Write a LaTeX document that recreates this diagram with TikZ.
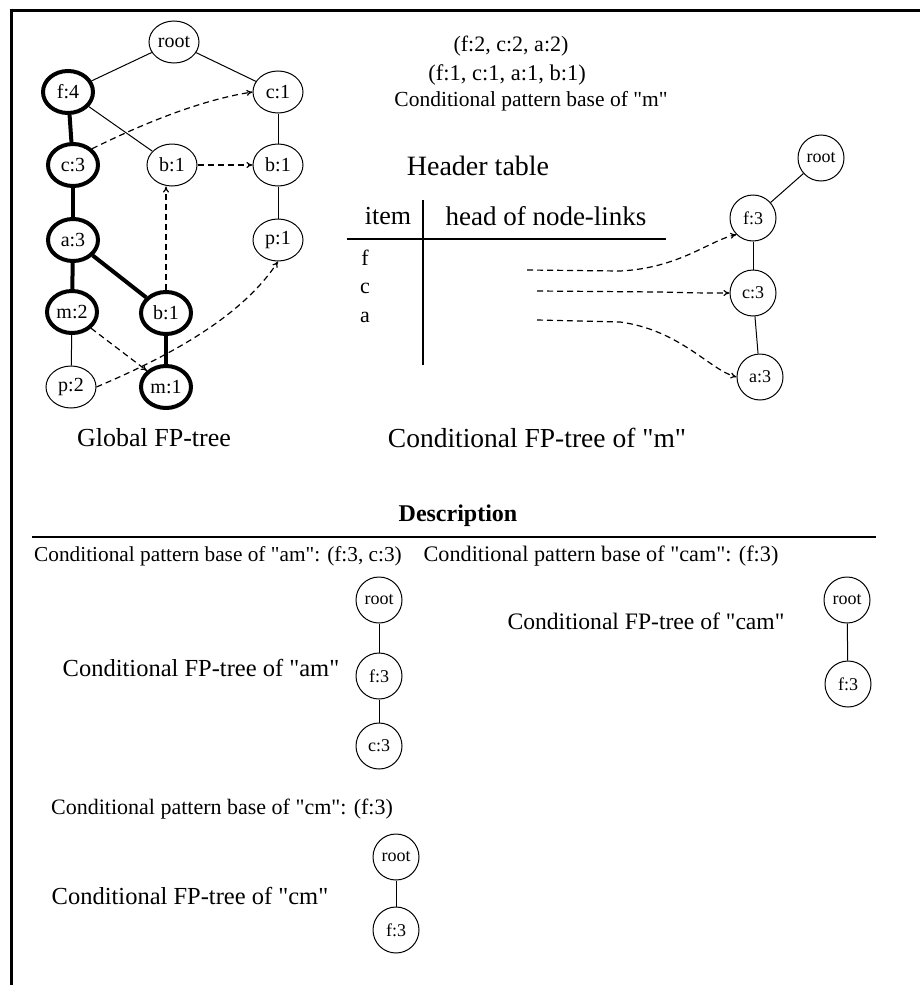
\documentclass[tikz,border=0pt]{standalone}
\usepackage{fontspec}
\setmainfont{Liberation Serif}[Ligatures=TeXOff]
\usetikzlibrary{shapes.geometric,arrows.meta}
\newcommand{\fs}[1]{\fontsize{#1}{#1}\selectfont}
\begin{document}
\begin{tikzpicture}[x=1pt,y=-1pt,
  gn/.style={ellipse,draw,line width=1pt,minimum width=50pt,minimum height=42pt,inner sep=0pt,font=\fs{20}},
  sn/.style={ellipse,draw,line width=1pt,minimum width=46pt,minimum height=46pt,inner sep=0pt,font=\fs{18}},
  thick node/.style={line width=4pt},
  bedge/.style={line width=4pt},
  tedge/.style={line width=1pt},
  link/.style={line width=1.2pt,dash pattern=on 6pt off 4pt,-{To[length=6pt,width=6pt]}},
  txt/.style={inner sep=0pt,anchor=center}]
\useasboundingbox (0,0) rectangle (920,985);
% frame
\draw[line width=3pt] (9.5,10) -- (920,10);
\draw[line width=3pt] (11,8.5) -- (11,985);

% global FP-tree
\node[gn] (root) at (174,42) {root};
\node[gn,thick node] (f4) at (68,92) {f:4};
\node[gn] (c1) at (278,92) {c:1};
\node[gn,thick node] (c3) at (73,165) {c:3};
\node[gn] (b1m) at (172,165) {b:1};
\node[gn] (b1r) at (278,165) {b:1};
\node[gn,thick node] (a3) at (73,240) {a:3};
\node[gn] (p1) at (278,240) {p:1};
\node[gn,thick node] (m2) at (72,312) {m:2};
\node[gn,thick node] (b1b) at (166,313) {b:1};
\node[gn] (p2) at (71,387) {p:2};
\node[gn,thick node] (m1) at (166,387) {m:1};
\node[txt,font=\fs{26}] (gl) at (154,438) {Global FP-tree};

\draw[tedge] (root) -- (f4);
\draw[tedge] (root) -- (c1);
\draw[tedge] (f4) -- (b1m);
\draw[tedge] (c1) -- (b1r);
\draw[tedge] (b1r) -- (p1);
\draw[tedge] (m2) -- (p2);
\draw[bedge] (f4) -- (c3);
\draw[bedge] (c3) -- (a3);
\draw[bedge] (a3) -- (m2);
\draw[bedge] (a3) -- (b1b);
\draw[bedge] (b1b) -- (m1);

\draw[link] (c3.north east) .. controls (140,125) and (200,100) .. (c1.west);
\draw[link] (b1m) -- (b1r);
\draw[link] (b1b.north) -- (b1b.north |- b1m.south);
\draw[link] (m2.south east) -- (m1.north west);
\draw[link] (p2.east) .. controls (160,360) and (240,320) .. (p1.south);

% conditional pattern base of m
\node[txt,font=\fs{22}] (t1) at (511,46) {(f:2, c:2, a:2)};
\node[txt,font=\fs{22.5}] (t2) at (507,75) {(f:1, c:1, a:1, b:1)};
\node[txt,font=\fs{21.5}] (t3) at (531,101) {Conditional pattern base of "m"};

% header table
\node[txt,font=\fs{28}] (ht) at (478,166) {Header table};
\node[txt,font=\fs{26}] (it) at (388,216) {item};
\node[txt,font=\fs{27}] (hl) at (546,216) {head of node-links};
\coordinate (vt) at (423,200);
\coordinate (vb) at (423,365);
\coordinate (hl1) at (347,239);
\coordinate (hr1) at (666,239);
\draw[line width=1.5pt] (vt) -- (vb);
\draw[line width=1.5pt] (hl1) -- (hr1);
\node[txt,font=\fs{22}] (if) at (365,258) {f};
\node[txt,font=\fs{22}] (ic) at (365,288) {c};
\node[txt,font=\fs{22}] (ia) at (365,317) {a};

% conditional FP-tree of m
\node[sn] (mroot) at (821,158) {root};
\node[sn] (mf3) at (753,218) {f:3};
\node[sn] (mc3) at (753,293) {c:3};
\node[sn] (ma3) at (760,377) {a:3};
\draw[tedge] (mroot) -- (mf3);
\draw[tedge] (mf3) -- (mc3);
\draw[tedge] (mc3) -- (ma3);
\coordinate (sf) at (527,270);
\coordinate (sc) at (537,291);
\coordinate (sa) at (537,320);
\draw[link] (sf) -- (620,271) .. controls (680,268) and (710,240) .. (mf3.south west);
\draw[link] (sc) -- (660,292) .. controls (700,293) .. (mc3.west);
\draw[link] (sa) -- (620,322) .. controls (680,330) and (710,370) .. (ma3.west);
\node[txt,font=\fs{27.5}] (cm) at (537,438) {Conditional FP-tree of "m"};

% description
\node[txt,font=\fs{24}\bfseries] (desc) at (458,516) {Description};
\coordinate (dl) at (32,537);
\coordinate (dr) at (876,537);
\draw[line width=1.5pt] (dl) -- (dr);
\node[txt,font=\fs{21.3}] (pam) at (218,556) {Conditional pattern base of "am": (f:3, c:3)};
\node[txt,font=\fs{22.2}] (pcam) at (601,556) {Conditional pattern base of "cam": (f:3)};

\node[sn] (aroot) at (379,600) {root};
\node[sn] (af3) at (379,676) {f:3};
\node[sn] (ac3) at (379,746) {c:3};
\draw[tedge] (aroot) -- (af3);
\draw[tedge] (af3) -- (ac3);
\node[txt,font=\fs{24.5}] (lam) at (201,668) {Conditional FP-tree of "am"};

\node[sn] (croot) at (847,600) {root};
\node[sn] (cf3) at (848,684) {f:3};
\draw[tedge] (croot) -- (cf3);
\node[txt,font=\fs{23.6}] (lcam) at (646,621) {Conditional FP-tree of "cam"};

\node[txt,font=\fs{22}] (pcm) at (222,809) {Conditional pattern base of "cm": (f:3)};
\node[sn] (rroot) at (396,857) {root};
\node[sn] (rf3) at (396,930) {f:3};
\draw[tedge] (rroot) -- (rf3);
\node[txt,font=\fs{24.5}] (lcm) at (190,896) {Conditional FP-tree of "cm"};
\end{tikzpicture}
\end{document}
